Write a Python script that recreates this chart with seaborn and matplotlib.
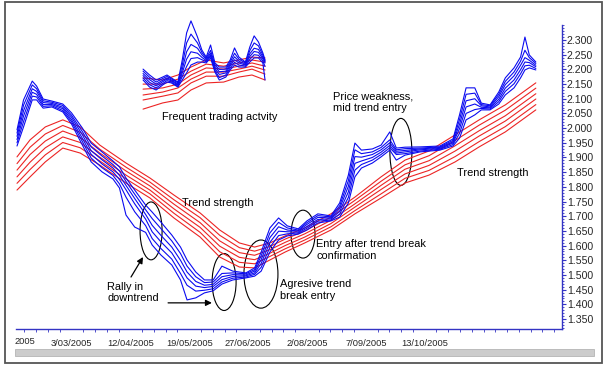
import pandas as pd
import matplotlib
matplotlib.use("Agg")
import matplotlib.pyplot as plt
from matplotlib.patches import Ellipse, Rectangle
from matplotlib.ticker import MultipleLocator, FixedLocator
import seaborn as sns

# --- Main chart: short term (blue) and long term (red) averages, by bar number ---
blue_bars = [0, 3, 7, 9, 12, 16, 21, 25, 30, 34, 39, 44, 47, 50, 54, 59, 62, 66, 71, 75,
             78, 82, 86, 90, 94, 99, 105, 109, 112, 116, 120, 124, 129, 133, 138, 144, 148, 152, 155, 158,
             163, 167, 171, 174, 178, 185, 194, 200, 203, 206, 210, 213, 217, 221, 224, 228, 231, 233, 235, 238]
blue_1 = [1.994, 2.096, 2.160, 2.143, 2.099, 2.092, 2.082, 2.052, 2.000, 1.949, 1.919, 1.888, 1.868, 1.830, 1.789,
          1.738, 1.714, 1.680, 1.636, 1.595, 1.551, 1.510, 1.483, 1.483, 1.530, 1.513, 1.507, 1.524, 1.578, 1.660,
          1.694, 1.667, 1.657, 1.684, 1.708, 1.701, 1.745, 1.840, 1.949, 1.925, 1.929, 1.942, 1.987, 1.932, 1.935,
          1.936, 1.939, 1.963, 2.045, 2.137, 2.137, 2.085, 2.079, 2.123, 2.171, 2.205, 2.242, 2.310, 2.249, 2.225]
blue_2 = [1.983, 2.078, 2.147, 2.134, 2.093, 2.088, 2.077, 2.044, 1.988, 1.936, 1.905, 1.876, 1.854, 1.818, 1.775,
          1.722, 1.692, 1.658, 1.616, 1.573, 1.530, 1.494, 1.474, 1.476, 1.505, 1.507, 1.504, 1.518, 1.565, 1.643,
          1.679, 1.660, 1.653, 1.678, 1.702, 1.698, 1.735, 1.821, 1.926, 1.913, 1.919, 1.934, 1.960, 1.926, 1.930,
          1.932, 1.936, 1.958, 2.029, 2.115, 2.119, 2.080, 2.076, 2.115, 2.159, 2.191, 2.228, 2.265, 2.240, 2.220]
blue_3 = [1.972, 2.059, 2.134, 2.125, 2.087, 2.084, 2.071, 2.037, 1.977, 1.923, 1.892, 1.864, 1.839, 1.805, 1.760,
          1.706, 1.669, 1.635, 1.595, 1.550, 1.510, 1.478, 1.465, 1.468, 1.494, 1.501, 1.500, 1.513, 1.552, 1.627,
          1.664, 1.653, 1.650, 1.672, 1.696, 1.694, 1.726, 1.802, 1.903, 1.901, 1.910, 1.926, 1.950, 1.921, 1.924,
          1.929, 1.934, 1.953, 2.013, 2.093, 2.100, 2.076, 2.072, 2.107, 2.148, 2.178, 2.214, 2.240, 2.231, 2.214]
blue_4 = [1.961, 2.041, 2.122, 2.115, 2.080, 2.080, 2.066, 2.029, 1.965, 1.911, 1.878, 1.851, 1.825, 1.790, 1.742,
          1.690, 1.647, 1.613, 1.575, 1.528, 1.490, 1.462, 1.457, 1.461, 1.484, 1.495, 1.497, 1.507, 1.539, 1.611,
          1.649, 1.647, 1.646, 1.665, 1.689, 1.691, 1.716, 1.783, 1.880, 1.888, 1.900, 1.918, 1.941, 1.915, 1.919,
          1.926, 1.931, 1.949, 1.998, 2.072, 2.082, 2.071, 2.069, 2.098, 2.136, 2.164, 2.199, 2.225, 2.223, 2.209]
blue_5 = [1.950, 2.022, 2.109, 2.106, 2.074, 2.076, 2.060, 2.022, 1.954, 1.898, 1.865, 1.839, 1.810, 1.765, 1.715,
          1.668, 1.624, 1.590, 1.554, 1.505, 1.465, 1.445, 1.448, 1.453, 1.476, 1.489, 1.493, 1.502, 1.526, 1.594,
          1.634, 1.640, 1.643, 1.659, 1.683, 1.687, 1.707, 1.764, 1.857, 1.876, 1.891, 1.910, 1.933, 1.910, 1.913,
          1.922, 1.928, 1.944, 1.982, 2.050, 2.063, 2.067, 2.065, 2.090, 2.125, 2.151, 2.185, 2.212, 2.214, 2.203]
blue_6 = [1.939, 2.004, 2.096, 2.096, 2.068, 2.072, 2.055, 2.014, 1.942, 1.885, 1.851, 1.827, 1.796, 1.704, 1.663,
          1.645, 1.602, 1.568, 1.534, 1.483, 1.415, 1.422, 1.439, 1.446, 1.469, 1.483, 1.490, 1.496, 1.513, 1.578,
          1.619, 1.633, 1.639, 1.653, 1.677, 1.684, 1.697, 1.745, 1.834, 1.864, 1.881, 1.902, 1.925, 1.891, 1.908,
          1.919, 1.925, 1.939, 1.966, 2.028, 2.045, 2.062, 2.062, 2.082, 2.113, 2.137, 2.171, 2.198, 2.205, 2.198]

red_bars = [0, 6, 13, 21, 29, 38, 50, 61, 72, 84, 93, 102, 109, 116, 123, 132, 144, 155, 167, 178,
            189, 201, 212, 224, 238]
red_1 = [1.902, 1.960, 2.004, 2.028, 2.004, 1.942, 1.881, 1.830, 1.772, 1.711, 1.653, 1.609, 1.595, 1.609, 1.633,
         1.660, 1.708, 1.765, 1.834, 1.891, 1.922, 1.977, 2.028, 2.079, 2.154]
red_2 = [1.879, 1.935, 1.980, 2.009, 1.986, 1.928, 1.867, 1.816, 1.756, 1.695, 1.635, 1.593, 1.581, 1.597, 1.622,
         1.650, 1.697, 1.754, 1.819, 1.875, 1.906, 1.958, 2.010, 2.061, 2.136]
red_3 = [1.857, 1.910, 1.956, 1.990, 1.968, 1.915, 1.854, 1.803, 1.741, 1.678, 1.616, 1.576, 1.567, 1.586, 1.611,
         1.640, 1.686, 1.742, 1.805, 1.860, 1.889, 1.940, 1.991, 2.042, 2.117]
red_4 = [1.834, 1.884, 1.933, 1.970, 1.951, 1.901, 1.840, 1.789, 1.725, 1.662, 1.598, 1.560, 1.552, 1.574, 1.600,
         1.629, 1.675, 1.731, 1.791, 1.844, 1.873, 1.922, 1.973, 2.024, 2.099]
red_5 = [1.812, 1.859, 1.909, 1.951, 1.933, 1.888, 1.827, 1.776, 1.710, 1.645, 1.579, 1.543, 1.538, 1.563, 1.589,
         1.619, 1.664, 1.719, 1.776, 1.829, 1.856, 1.903, 1.954, 2.005, 2.080]
red_6 = [1.789, 1.834, 1.885, 1.932, 1.915, 1.874, 1.813, 1.762, 1.694, 1.629, 1.561, 1.527, 1.524, 1.551, 1.578,
         1.609, 1.653, 1.708, 1.762, 1.813, 1.840, 1.885, 1.936, 1.987, 2.062]

# --- Small example chart ("Frequent trading actvity") ---
inset_blue_bars = [0, 3, 6, 9, 11, 13, 16, 18, 20, 22, 25, 27, 29, 31, 33, 35, 38, 40, 42, 44, 47, 49, 51, 53, 55, 56]
inset_blue_1 = [2.201, 2.181, 2.164, 2.174, 2.181, 2.171, 2.157, 2.232, 2.324, 2.365, 2.310, 2.266, 2.242, 2.283,
                2.222, 2.208, 2.208, 2.232, 2.273, 2.242, 2.225, 2.276, 2.314, 2.293, 2.256, 2.232]
inset_blue_2 = [2.194, 2.173, 2.157, 2.169, 2.176, 2.168, 2.154, 2.215, 2.290, 2.320, 2.290, 2.258, 2.238, 2.265,
                2.216, 2.200, 2.201, 2.225, 2.255, 2.235, 2.222, 2.264, 2.290, 2.280, 2.249, 2.229]
inset_blue_3 = [2.186, 2.165, 2.150, 2.163, 2.171, 2.164, 2.150, 2.200, 2.260, 2.285, 2.272, 2.250, 2.234, 2.256,
                2.210, 2.192, 2.194, 2.218, 2.243, 2.228, 2.218, 2.253, 2.272, 2.268, 2.242, 2.226]
inset_blue_4 = [2.179, 2.156, 2.144, 2.158, 2.167, 2.161, 2.147, 2.188, 2.235, 2.260, 2.255, 2.241, 2.230, 2.250,
                2.203, 2.183, 2.188, 2.212, 2.233, 2.222, 2.215, 2.244, 2.261, 2.258, 2.236, 2.222]
inset_blue_5 = [2.171, 2.148, 2.137, 2.152, 2.162, 2.157, 2.143, 2.176, 2.210, 2.237, 2.240, 2.233, 2.226, 2.245,
                2.197, 2.172, 2.181, 2.205, 2.224, 2.215, 2.211, 2.234, 2.250, 2.248, 2.229, 2.210]
inset_blue_6 = [2.164, 2.140, 2.130, 2.147, 2.157, 2.154, 2.140, 2.164, 2.188, 2.215, 2.225, 2.225, 2.222, 2.239,
                2.191, 2.164, 2.174, 2.198, 2.215, 2.208, 2.208, 2.225, 2.239, 2.239, 2.222, 2.164]

inset_red_bars = [0, 9, 16, 22, 29, 37, 44, 50, 56]
inset_red_1 = [2.171, 2.164, 2.181, 2.208, 2.232, 2.222, 2.232, 2.242, 2.239]
inset_red_2 = [2.150, 2.150, 2.167, 2.194, 2.218, 2.211, 2.222, 2.232, 2.225]
inset_red_3 = [2.133, 2.137, 2.150, 2.181, 2.205, 2.201, 2.211, 2.222, 2.211]
inset_red_4 = [2.113, 2.123, 2.137, 2.167, 2.191, 2.191, 2.201, 2.211, 2.198]
inset_red_5 = [2.096, 2.109, 2.120, 2.154, 2.177, 2.177, 2.191, 2.201, 2.184]
inset_red_6 = [2.065, 2.086, 2.096, 2.130, 2.154, 2.157, 2.174, 2.181, 2.164]

# --- Axis labels ---
date_ticks = [25, 52, 79, 106, 133, 160, 187]
date_labels = ["3/03/2005", "12/04/2005", "19/05/2005", "27/06/2005", "2/08/2005", "7/09/2005", "13/10/2005"]
price_ticks = [1.35, 1.40, 1.45, 1.50, 1.55, 1.60, 1.65, 1.70, 1.75, 1.80, 1.85, 1.90,
               1.95, 2.00, 2.05, 2.10, 2.15, 2.20, 2.25, 2.30]

BLUE = "#0a0af0"
RED = "#ec2424"
AXIS = "#3434c4"


def long_form(bars, lines):
    frames = []
    for i, vals in enumerate(lines):
        assert len(vals) == len(bars)
        frames.append(pd.DataFrame({"bar": bars, "price": vals, "line": i}))
    return pd.concat(frames, ignore_index=True)


blue_df = long_form(blue_bars, [blue_1, blue_2, blue_3, blue_4, blue_5, blue_6])
red_df = long_form(red_bars, [red_1, red_2, red_3, red_4, red_5, red_6])
inset_blue_df = long_form(inset_blue_bars, [inset_blue_1, inset_blue_2, inset_blue_3,
                                            inset_blue_4, inset_blue_5, inset_blue_6])
inset_red_df = long_form(inset_red_bars, [inset_red_1, inset_red_2, inset_red_3,
                                          inset_red_4, inset_red_5, inset_red_6])

sns.set_style("white")
plt.rcParams["font.family"] = ["Liberation Sans", "DejaVu Sans"]

fig = plt.figure(figsize=(6.06, 3.71), dpi=100)
W, H = 606, 371
ax = fig.add_axes([16 / W, 1 - 329 / H, 546 / W, 304 / H])
ax.patch.set_alpha(0)

sns.lineplot(data=red_df, x="bar", y="price", units="line", estimator=None,
             color=RED, lw=0.8, ax=ax, legend=False)
sns.lineplot(data=blue_df, x="bar", y="price", units="line", estimator=None,
             color=BLUE, lw=0.8, ax=ax, legend=False)

ax.set_xlim(-0.46, 250)
ax.set_ylim(1.316, 2.351)
ax.set_xlabel("")
ax.set_ylabel("")

for side in ["top", "left"]:
    ax.spines[side].set_visible(False)
for side in ["right", "bottom"]:
    ax.spines[side].set_color(AXIS)
    ax.spines[side].set_linewidth(1.0)

ax.yaxis.tick_right()
ax.set_yticks(price_ticks)
ax.set_yticklabels([f"{v:.3f}" for v in price_ticks])
ax.yaxis.set_minor_locator(MultipleLocator(0.01))
ax.tick_params(axis="y", which="major", length=3, width=0.8, color=AXIS, labelsize=7.6, pad=0.5)
ax.tick_params(axis="y", which="minor", length=1.5, width=0.6, color=AXIS, right=True)

ax.set_xticks(date_ticks)
ax.set_xticklabels(date_labels)
ax.xaxis.set_minor_locator(FixedLocator([date_ticks[0] - 27 + 5.4 * k for k in range(50)]))
ax.tick_params(axis="x", which="major", length=2, width=0.6, color=AXIS, labelsize=6.7, pad=5)
ax.tick_params(axis="x", which="minor", length=2, width=0.6, color=AXIS, bottom=True)
fig.text(15 / W, 1 - 341 / H, "2005", fontsize=6.7, ha="left", va="center")

# annotations
ann = dict(fontsize=7.9, ha="left", va="center", color="black")
ax.text(75.7, 1.745, "Trend strength", **ann)
ax.text(201.8, 1.847, "Trend strength", **ann)
ax.text(41.3, 1.440, "Rally in\ndowntrend", linespacing=1.2, **ann)
ax.text(120.6, 1.449, "Agresive trend\nbreak entry", linespacing=1.2, **ann)
ax.text(137.2, 1.585, "Entry after trend break\nconfirmation", linespacing=1.2, **ann)
ax.text(145.0, 2.089, "Price weakness,\nmid trend entry", linespacing=1.2, **ann)
ax.text(66.5, 2.038, "Frequent trading actvity", **ann)

for (cx, cy, w, h) in [(61.5, 1.650, 10.1, 0.197), (95.0, 1.476, 11.0, 0.194),
                       (111.9, 1.503, 15.6, 0.232), (131.2, 1.639, 11.0, 0.163),
                       (176.1, 1.919, 10.1, 0.228)]:
    ax.add_patch(Ellipse((cx, cy), w, h, fill=False, ec="black", lw=0.8))

arrow = dict(arrowstyle="-|>", color="black", lw=0.9, mutation_scale=9, shrinkA=0, shrinkB=0)
ax.annotate("", xy=(57.8, 1.561), xytext=(52.3, 1.493), arrowprops=arrow)
ax.annotate("", xy=(89.4, 1.405), xytext=(69.3, 1.405), arrowprops=arrow)

# small example chart
iax = fig.add_axes([140 / W, 1 - 120 / H, 132 / W, 110 / H])
iax.patch.set_alpha(0)
sns.lineplot(data=inset_red_df, x="bar", y="price", units="line", estimator=None,
             color=RED, lw=0.8, ax=iax, legend=False)
sns.lineplot(data=inset_blue_df, x="bar", y="price", units="line", estimator=None,
             color=BLUE, lw=0.8, ax=iax, legend=False)
iax.set_xlim(-1.4, 59.2)
iax.set_ylim(2.028, 2.402)
iax.axis("off")

# frame and scroll bar
fig.patches.append(Rectangle((15 / W, 1 - 356 / H), 579 / W, 7 / H, transform=fig.transFigure,
                             fc="#cccccc", ec="#b4b4b4", lw=0.6))
fig.patches.append(Rectangle((5 / W, 1 - 363 / H), 597 / W, 361 / H, transform=fig.transFigure,
                             fill=False, ec="#555555", lw=1.3))

fig.savefig("out.png", dpi=100)
